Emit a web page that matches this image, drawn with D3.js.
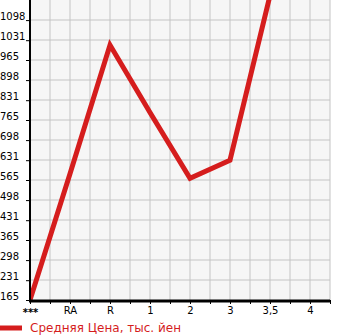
<!DOCTYPE html>
<html>
<head>
<meta charset="utf-8">
<script src="https://cdn.jsdelivr.net/npm/d3@7"></script>
<style>
  body { margin: 0; background: #fff; }
  text { font-family: "DejaVu Sans", sans-serif; }
</style>
</head>
<body>
<script>
// categories on the x axis
var categories = ["***", "RA", "R", "1", "2", "3", "3,5", "4"];
// average price, thousand yen (last point runs off the top)
var prices = [165, 586, 1015, 790, 571, 631, 1180, null];
// y tick labels
var yTicks = [165, 231, 298, 365, 431, 498, 565, 631, 698, 765, 831, 898, 965, 1031, 1098];
var legendLabel = "Средняя Цена, тыс. йен";

var w = 345, h = 335;
var plotLeft = 30, plotRight = 330, plotTop = 0, plotBottom = 300;

var svg = d3.select("body").append("svg")
    .attr("width", w)
    .attr("height", h);

var xScale = d3.scaleLinear()
    .domain([0, categories.length - 0.5])
    .range([plotLeft, plotRight]);
var yScale = d3.scaleLinear()
    .domain([165, 1165])
    .range([plotBottom, plotTop]);

// plot background
svg.append("rect")
    .attr("x", plotLeft).attr("y", plotTop)
    .attr("width", plotRight - plotLeft).attr("height", plotBottom - plotTop)
    .attr("fill", "#f6f6f6");

// grid
var halfSteps = d3.range(0, categories.length, 0.5);
svg.append("g").selectAll("line")
    .data(halfSteps.slice(1))
    .enter().append("line")
    .attr("x1", function(d) { return xScale(d); })
    .attr("x2", function(d) { return xScale(d); })
    .attr("y1", plotTop).attr("y2", plotBottom)
    .attr("stroke", "#c4c4c4").attr("stroke-width", 1);
svg.append("g").selectAll("line")
    .data(yTicks.slice(1))
    .enter().append("line")
    .attr("x1", plotLeft).attr("x2", plotRight)
    .attr("y1", function(d) { return Math.round(yScale(d)); })
    .attr("y2", function(d) { return Math.round(yScale(d)); })
    .attr("stroke", "#c4c4c4").attr("stroke-width", 1);

// line
svg.append("clipPath").attr("id", "plotclip")
    .append("rect")
    .attr("x", plotLeft).attr("y", plotTop)
    .attr("width", plotRight - plotLeft).attr("height", plotBottom - plotTop);

var line = d3.line()
    .defined(function(d) { return d != null; })
    .x(function(d, i) { return xScale(i); })
    .y(function(d) { return yScale(d); });

svg.append("path")
    .datum(prices)
    .attr("clip-path", "url(#plotclip)")
    .attr("d", line)
    .attr("fill", "none")
    .attr("stroke", "#d51d1d")
    .attr("stroke-width", 5)
    .attr("stroke-linejoin", "miter");

// y axis
var yAxis = d3.axisLeft(yScale)
    .tickValues(yTicks)
    .tickSize(4)
    .tickFormat(function(d) { return d; });
var gy = svg.append("g")
    .attr("transform", "translate(" + plotLeft + ",0)")
    .call(yAxis);
gy.select(".domain").remove();
gy.selectAll(".tick line").attr("stroke", "#000");
gy.selectAll(".tick text")
    .attr("text-anchor", "start")
    .attr("x", -30)
    .attr("dy", "-1")
    .attr("font-size", "10px")
    .attr("fill", "#000")
    .attr("font-family", "DejaVu Sans, sans-serif");
svg.append("line")
    .attr("x1", plotLeft).attr("x2", plotLeft)
    .attr("y1", plotTop).attr("y2", plotBottom + 1)
    .attr("stroke", "#000").attr("stroke-width", 2);

// x axis
var xAxis = d3.axisBottom(xScale)
    .tickValues(halfSteps)
    .tickSize(4)
    .tickFormat(function(d) { return Number.isInteger(d) ? categories[d] : ""; });
var gx = svg.append("g")
    .attr("transform", "translate(0," + plotBottom + ")")
    .call(xAxis);
gx.select(".domain").remove();
gx.selectAll(".tick line").attr("stroke", "#000");
gx.selectAll(".tick text")
    .attr("y", 7)
    .attr("font-size", "10px")
    .attr("fill", "#000")
    .attr("font-family", "DejaVu Sans, sans-serif");
gx.selectAll(".tick text").filter(function(d) { return d === 0; })
    .attr("font-weight", "bold").attr("y", 9);
svg.append("line")
    .attr("x1", plotLeft - 1).attr("x2", plotRight)
    .attr("y1", plotBottom + 1).attr("y2", plotBottom + 1)
    .attr("stroke", "#000").attr("stroke-width", 3);

// legend
svg.append("line")
    .attr("x1", 0).attr("x2", 22)
    .attr("y1", 328).attr("y2", 328)
    .attr("stroke", "#d51d1d")
    .attr("stroke-width", 5);
svg.append("text")
    .attr("x", 30).attr("y", 332)
    .attr("font-size", "12px")
    .attr("fill", "#d51d1d")
    .text(legendLabel);
</script>
</body>
</html>
